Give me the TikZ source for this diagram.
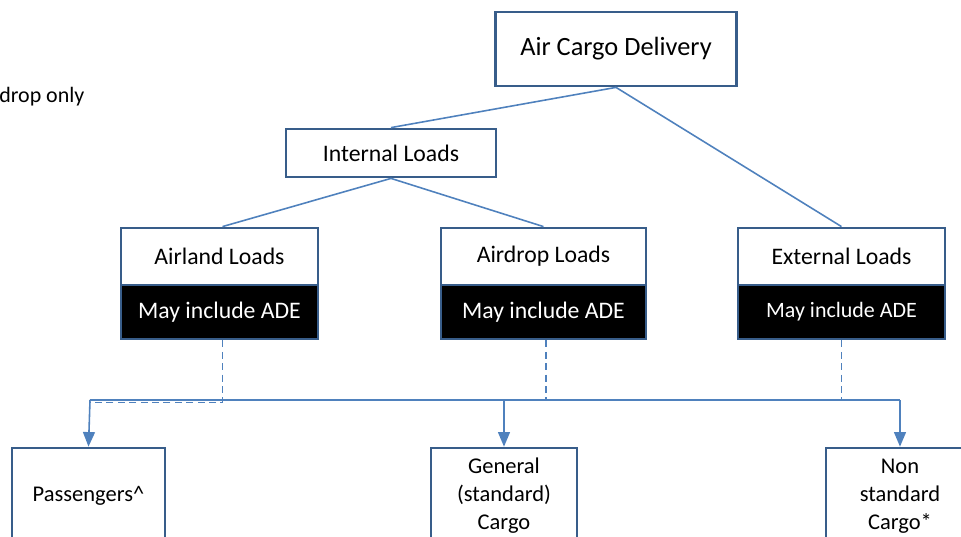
\documentclass[tikz,border=0pt]{standalone}
\usepackage{fontspec}
\setmainfont{Carlito}
\usetikzlibrary{arrows, positioning}
\definecolor{boxblue}{RGB}{56,93,138}
\definecolor{lineblue}{RGB}{79,129,189}
\tikzstyle{head} = [rectangle, minimum width=4.82cm, minimum height=1.48cm, text centered, draw=boxblue, line width=1.6pt, fill=white, font=\fontsize{15}{18}\selectfont]
\tikzstyle{group} = [rectangle, minimum width=4.2cm, minimum height=0.96cm, text centered, draw=boxblue, line width=1.6pt, fill=white, font=\fontsize{13.5}{16}\selectfont]
\tikzstyle{load} = [rectangle, minimum height=1.14cm, text centered, draw=boxblue, line width=1.6pt, fill=white, font=\fontsize{13.5}{16}\selectfont]
\tikzstyle{ade} = [rectangle, minimum height=1.08cm, text centered, draw=boxblue, line width=1.6pt, fill=black, text=white, font=\fontsize{13.5}{16}\selectfont]
\tikzstyle{cargo} = [rectangle, minimum width=2.96cm, minimum height=1.92cm, align=center, draw=boxblue, line width=1.6pt, fill=white, font=\fontsize{12.8}{16}\selectfont]
\tikzstyle{link} = [draw=lineblue, line width=0.9pt]
\tikzstyle{dashlink} = [draw=lineblue, line width=1pt, dash pattern=on 4pt off 2.5pt]
\tikzstyle{arrow} = [->, >=triangle 45, draw=lineblue, line width=0.9pt]

\begin{document}
\begin{tikzpicture}[x=0.02cm, y=-0.02cm]
	\useasboundingbox (0,0) rectangle (961,537);
	\node (note) [anchor=west, inner sep=0pt, font=\fontsize{12.5}{15}\selectfont] at (-1,97) {drop only};

	\node (delivery) [head] at (616,49) {Air Cargo Delivery};
	\node (internal) [group] at (391,153) {Internal Loads};
	\node (airland) [load, minimum width=3.94cm] at (219.5,256.5) {Airland Loads};
	\node (airlandade) [ade, minimum width=3.94cm, below=-1.6pt of airland] {May include ADE};
	\node (airdrop) [load, minimum width=4.1cm] at (543.5,256.5) {Airdrop Loads};
	\node (airdropade) [ade, minimum width=4.1cm, below=-1.6pt of airdrop] {May include ADE};
	\node (external) [load, minimum width=4.14cm] at (841.5,256.5) {External Loads};
	\node (externalade) [ade, minimum width=4.14cm, below=-1.6pt of external, font=\fontsize{12.5}{15}\selectfont] {May include ADE};

	\node (passengers) [cargo, minimum width=3.06cm] at (88.5,496) {Passengers\textasciicircum};
	\node (general) [cargo, minimum width=2.92cm] at (504,496) {General\\(standard)\\Cargo};
	\node (nonstd) [cargo] at (900,496) {Non\\standard\\Cargo*};

	\coordinate (busL) at (90,400);
	\coordinate (busM) at (504,400);
	\coordinate (busR) at (900,400);

	\draw [link](delivery.south) -- (internal.north);
	\draw [link](delivery.south) -- (external.north);
	\draw [link](internal.south) -- ([xshift=0.06cm]airland.north);
	\draw [link](internal.south) -- (airdrop.north);

	\draw [dashlink]([xshift=0.06cm]airlandade.south) |- ([yshift=-0.05cm]busL);
	\draw [dashlink]([xshift=0.05cm]airdropade.south) -- ([xshift=0.05cm]airdropade.south |- busM);
	\draw [dashlink](externalade.south) -- (externalade.south |- busR);
	\draw [link](busL) -- (busR);

	\draw [arrow](busL) -- (passengers.north);
	\draw [arrow](busM) -- (general.north);
	\draw [arrow](busR) -- (nonstd.north);
\end{tikzpicture}
\end{document}
